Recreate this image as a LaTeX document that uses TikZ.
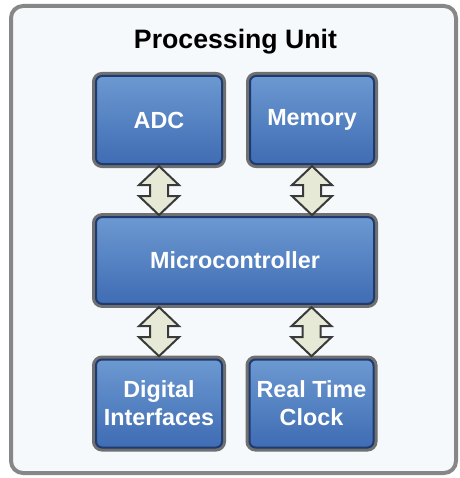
\documentclass[tikz,border=0pt]{standalone}
\usepackage{fontspec}
\setmainfont{Liberation Sans}
\usetikzlibrary{calc}

\definecolor{boxtop}{HTML}{6C99D1}
\definecolor{boxbot}{HTML}{3F6CB3}
\definecolor{boxline}{HTML}{1E3A6E}
\definecolor{boxrim}{HTML}{707070}
\definecolor{panel}{HTML}{F5F9FB}
\definecolor{panelline}{HTML}{878787}
\definecolor{arrowfill}{HTML}{E7E9D7}
\definecolor{arrowline}{HTML}{3A3A3A}

\tikzset{
  unit/.style={rectangle, rounded corners=4.5pt, minimum height=66pt,
    text=white, font=\fontsize{17.5}{21}\selectfont\bfseries, align=center,
    top color=boxtop, bottom color=boxbot, draw=boxline, line width=1.5pt,
    preaction={draw=boxrim, line width=6pt}},
  link/.style={draw=arrowline, fill=arrowfill, line width=1.5pt, line join=miter}
}

% block arrow pointing both ways, centred between two anchors
\newcommand{\twoway}[2]{%
  \draw[link] ($(#1)!0.5!(#2)$) ++(0,-24.5) -- ++(20,19) -- ++(-11,0)
    -- ++(0,11) -- ++(11,0) -- ++(-20,19) -- ++(-20,-19) -- ++(11,0)
    -- ++(0,-11) -- ++(-11,0) -- cycle;}

\begin{document}
\begin{tikzpicture}[x=0.75pt, y=-0.75pt]
    \useasboundingbox (0,0) rectangle (460,478);

    % Outer panel and its title
    \draw[draw=panelline, fill=panel, line width=3pt, rounded corners=9pt]
        (11,6) rectangle (456,473);
    \node[anchor=base, font=\fontsize{20}{24}\selectfont\bfseries] (title)
        at (235.5,48.3) {Processing Unit};

    % The blocks
    \node[unit, minimum width=94.5pt] (adc) at (159,120) {ADC};
    \node[unit, minimum width=93pt] (mem) at (312,120) {Memory};
    \node[unit, minimum width=208.5pt, minimum height=65pt] (mcu) at (235,260.5) {Microcontroller};
    \node[unit, minimum width=94.5pt] (dig) at (159,403.5) {Digital\\Interfaces};
    \node[unit, minimum width=93pt] (rtc) at (311.5,403.5) {Real Time\\Clock};

    % Links to the microcontroller
    \twoway{adc.south}{adc.south |- mcu.north}
    \twoway{mem.south}{mem.south |- mcu.north}
    \twoway{dig.north}{dig.north |- mcu.south}
    \twoway{rtc.north}{rtc.north |- mcu.south}
\end{tikzpicture}
\end{document}
